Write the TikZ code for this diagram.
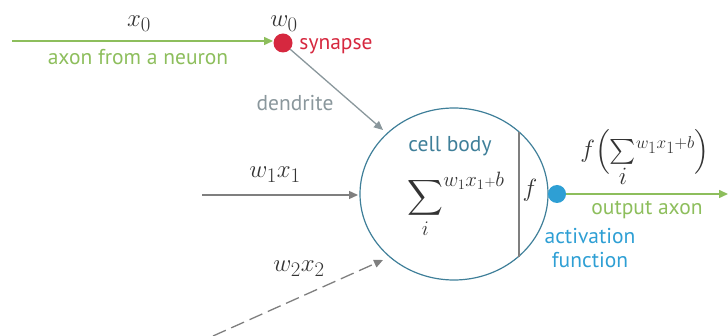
\documentclass[tikz,border=0pt]{standalone}
\usepackage{exscale}
\usepackage{fontspec}
\setsansfont{PT Sans}
\usetikzlibrary{arrows.meta,shapes.geometric}
\definecolor{axgreen}{HTML}{8DBE5C}
\definecolor{synred}{HTML}{D6283F}
\definecolor{actblue}{HTML}{2E9FD4}
\definecolor{cellblue}{HTML}{3F7F99}
\definecolor{dendgray}{HTML}{8A979C}
\definecolor{arrgray}{HTML}{7F7F7F}
\tikzset{
  lbl/.style={font=\sffamily\fontsize{21.5}{24}\selectfont, inner sep=0pt},
  mathlbl/.style={font=\fontsize{28}{32}\selectfont, inner sep=0pt, text=black!80},
  tipg/.style={-{Triangle[length=9pt,width=8pt]}},
  dotnode/.style={circle, inner sep=0pt, minimum size=#1},
}
\begin{document}
\begin{tikzpicture}[x=1pt,y=-1pt]
\useasboundingbox (0,0) rectangle (728,336);
% cell body
\node[draw=cellblue, line width=1.2pt, ellipse, minimum width=188pt, minimum height=172pt, inner sep=0pt] (cell) at (454,194) {};
\coordinate (vtop) at (519,132);
\coordinate (vbot) at (519,257);
\draw[arrgray, line width=1.6pt] (vtop) -- (vbot);
% synapse and input axon
\node[dotnode=19pt, fill=synred] (syn) at (283,43) {};
\coordinate (ax0) at (12,41);
\coordinate (ax0end) at (273,41);
\draw[axgreen, line width=1.5pt, tipg] (ax0) -- (ax0end);
\node[mathlbl, anchor=base] (x0) at (139,27) {$x_0$};
\node[mathlbl, anchor=base] (w0) at (284,27) {$w_0$};
\node[lbl, text=synred, anchor=base] (synlbl) at (336,50) {synapse};
\node[lbl, text=axgreen, anchor=base] (axlbl) at (138,65) {axon from a neuron};
% dendrite
\coordinate (dendend) at (383,130);
\draw[dendgray, line width=1.3pt, tipg] (syn) -- (dendend);
\node[lbl, text=dendgray, anchor=base] (dendlbl) at (295,111) {dendrite};
% w1 x1
\coordinate (in1) at (202,195);
\coordinate (in1end) at (358,195);
\draw[arrgray, line width=1.3pt, tipg] (in1) -- (in1end);
\node[mathlbl, anchor=base] (w1x1) at (275,178) {$w_1x_1$};
% w2 x2
\coordinate (in2) at (213,336);
\coordinate (in2end) at (383,260);
\draw[arrgray, line width=1.3pt, dash pattern=on 14pt off 6pt, tipg] (in2) -- (in2end);
\node[mathlbl, anchor=base] (w2x2) at (299,272) {$w_2x_2$};
% inside cell
\node[lbl, text=cellblue, anchor=base] (celllbl) at (450,152) {cell body};
\node[mathlbl, anchor=center] (sumtxt) at (456,205) {${\displaystyle\sum_i}^{w_1x_1{\scriptscriptstyle+}b}$};
\node[mathlbl, anchor=center] (finner) at (530,190) {$f$};
% output
\node[dotnode=18pt, fill=actblue] (act) at (557,194) {};
\coordinate (outend) at (728,194);
\draw[axgreen, line width=1.5pt, tipg] (act) -- (outend);
\node[mathlbl, font=\fontsize{32}{36}\selectfont, anchor=center] (fout) at (645,158) {$f\Big(\hbox{\fontsize{34}{38}\selectfont${\textstyle\sum\limits_i}^{\scriptscriptstyle w_1x_1+b}$}\Big)$};
\node[lbl, text=axgreen, anchor=base] (outlbl) at (647,215) {output axon};
\node[lbl, text=actblue, align=center, anchor=north] (actlbl) at (590,228) {activation\\function};
\end{tikzpicture}
\end{document}
